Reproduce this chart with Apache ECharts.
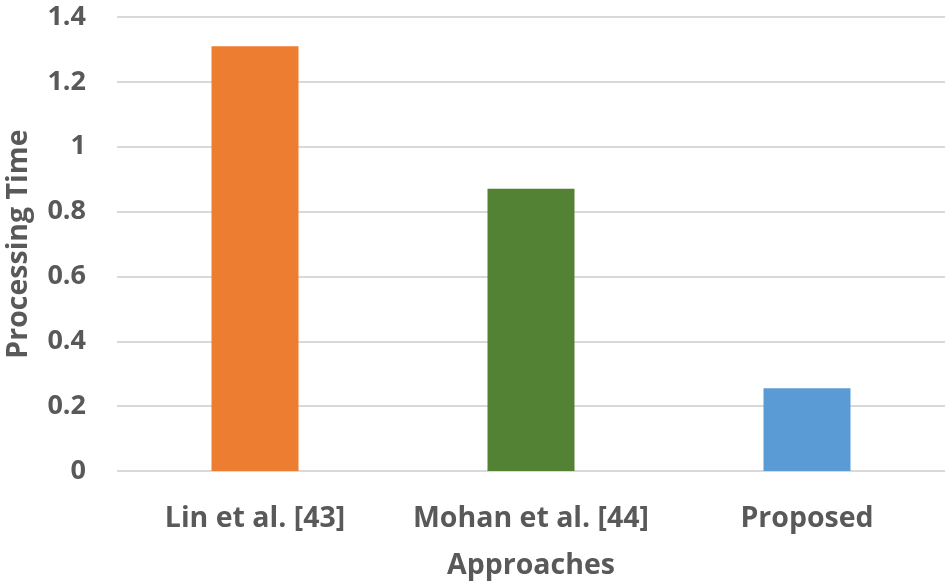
<!DOCTYPE html>
<html>
<head>
<meta charset="utf-8">
<script src="https://cdn.jsdelivr.net/npm/echarts@6/dist/echarts.min.js"></script>
<style>
html,body{margin:0;padding:0;background:#fff;}
#chart{width:950px;height:584px;}
</style>
</head>
<body>
<div id="chart"></div>
<script>
const categories = ['Lin et al. [43]', 'Mohan et al. [44]', 'Proposed'];
const values = [1.31, 0.87, 0.255];
const barColors = ['#ED7D31', '#548235', '#5B9BD5'];
const yTicks = [0, 0.2, 0.4, 0.6, 0.8, 1, 1.2, 1.4];

const font = 'Open Sans';
const textColor = '#595959';
const chart = echarts.init(document.getElementById('chart'));
chart.setOption({
  animation: false,
  grid: { left: 117, right: 5, top: 17, bottom: 113, containLabel: false, outerBoundsMode: 'none' },
  xAxis: {
    type: 'category',
    data: categories,
    name: 'Approaches',
    nameLocation: 'middle',
    nameGap: 80,
    nameTextStyle: { fontFamily: font, fontWeight: 'bold', fontSize: 28.5, color: textColor },
    axisLine: { show: false },
    axisTick: { show: false },
    axisLabel: { interval: 0, margin: 33, fontFamily: font, fontWeight: 'bold', fontSize: 28.5, color: textColor }
  },
  yAxis: {
    type: 'value',
    min: 0,
    max: 1.4,
    interval: 0.2,
    name: 'Processing Time',
    nameLocation: 'middle',
    nameGap: 84,
    nameTextStyle: { fontFamily: font, fontWeight: 'bold', fontSize: 28.5, color: textColor },
    axisLine: { show: false },
    axisTick: { show: false },
    splitLine: { lineStyle: { color: '#D9D9D9', width: 2 } },
    axisLabel: {
      margin: 31,
      fontFamily: font, fontWeight: 'bold', fontSize: 27, color: textColor,
      formatter: function (v) {
        const t = yTicks.find(function (x) { return Math.abs(x - v) < 1e-9; });
        return t === undefined ? '' : String(t);
      }
    }
  },
  series: [{
    type: 'bar',
    data: values.map(function (v, i) { return { value: v, itemStyle: { color: barColors[i] } }; }),
    barWidth: 87
  }]
});
</script>
</body>
</html>
